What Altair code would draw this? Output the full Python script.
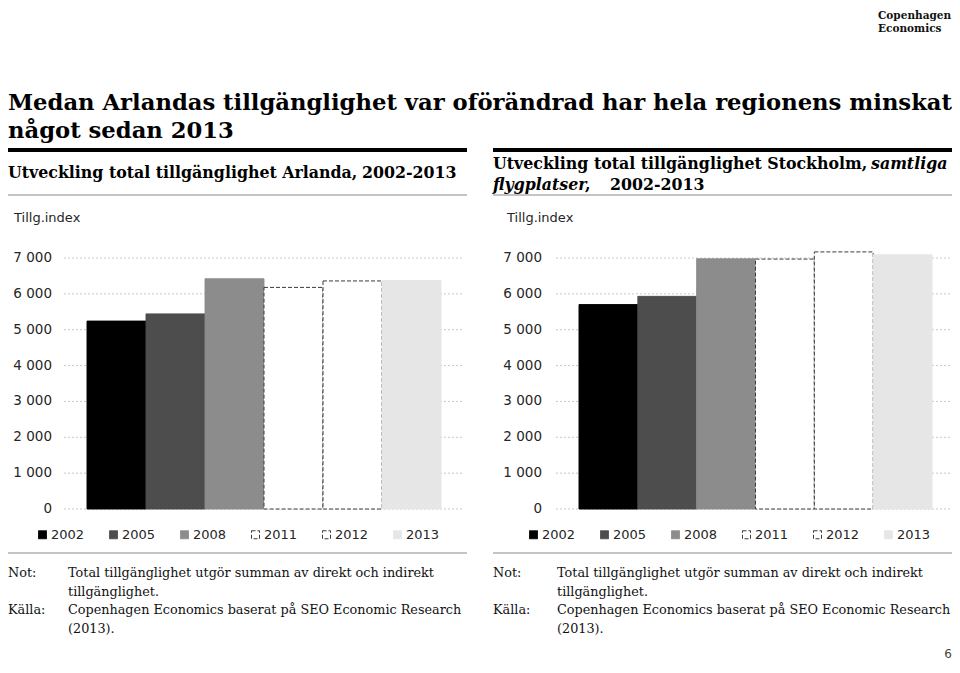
import altair as alt
import pandas as pd

# ---- data ----
years = ["2002", "2005", "2008", "2011", "2012", "2013"]
arlanda = [5240, 5440, 6420, 6180, 6360, 6370]
stockholm = [5700, 5930, 6980, 6970, 7170, 7090]
ticks = [0, 1000, 2000, 3000, 4000, 5000, 6000, 7000]

fills = ["#000000", "#4d4d4d", "#8c8c8c", "#ffffff", "#ffffff", "#e6e6e6"]
strokes = ["#000000", "#4d4d4d", "#8c8c8c", "#3a3a3a", "#3a3a3a", "#e6e6e6"]
dashes = [[1, 0], [1, 0], [1, 0], [4, 2], [4, 2], [1, 0]]

main_title = ["Medan Arlandas tillgänglighet var oförändrad har hela regionens minskat",
              "något sedan 2013"]
left_sub = ["Utveckling total tillgänglighet Arlanda,", "2002-2013"]
right_sub = ["Utveckling total tillgänglighet Stockholm,", "samtliga",
             "flygplatser", ",", "2002-2013"]
ylabel = "Tillg.index"
note_head = ["Not:", "Källa:"]
note_lines = ["Total tillgänglighet utgör summan av direkt och indirekt",
              "tillgänglighet.",
              "Copenhagen Economics baserat på SEO Economic Research",
              "(2013)."]
brand = ["Copenhagen", "Economics"]
page_no = "6"

dummy = pd.DataFrame({"d": [0]})
SERIF = "DejaVu Serif"
SANS = "DejaVu Sans"


def txt(s, x, y, size, weight="normal", style="normal", font=SERIF, color="#111111", align="left"):
    return alt.Chart(pd.DataFrame({"t": [s]})).mark_text(
        align=align, baseline="alphabetic", font=font, fontSize=size,
        fontWeight=weight, fontStyle=style, color=color
    ).encode(text="t:N", x=alt.value(x), y=alt.value(y))


def hline(x0, x1, y, color, width):
    return alt.Chart(dummy).mark_rule(color=color, strokeWidth=width).encode(
        x=alt.value(x0), x2=alt.value(x1), y=alt.value(y))


def panel(vals, bar_range, grid, label_x, legend_x):
    df = pd.DataFrame({"year": years, "value": vals})
    tdf = pd.DataFrame({"v": ticks})
    yscale = alt.Scale(domain=[0, 7000], range=[501, 250], nice=False)
    grid_layer = alt.Chart(tdf).mark_rule(color="#c8c8c8", strokeDash=[2, 2], strokeWidth=1).encode(
        y=alt.Y("v:Q", scale=yscale, axis=None),
        x=alt.value(grid[0]), x2=alt.value(grid[1]))
    labels = alt.Chart(tdf).transform_calculate(
        lab='replace(format(datum.v, ","), ",", " ")'
    ).mark_text(align="right", baseline="middle", font=SANS, fontSize=13.5, color="#262626").encode(
        y=alt.Y("v:Q", scale=yscale, axis=None), x=alt.value(label_x), text="lab:N")
    leg = alt.Legend(orient="none", legendX=legend_x, legendY=520, direction="horizontal",
                     columns=6, columnPadding=22, symbolType="square", symbolSize=64,
                     symbolStrokeWidth=1, labelFont=SANS, labelFontSize=13,
                     labelColor="#262626", labelOffset=2, title=None, padding=0, offset=0)
    bars = alt.Chart(df).mark_bar(strokeWidth=1).encode(
        x=alt.X("year:N", sort=years, axis=None,
                scale=alt.Scale(domain=years, range=bar_range, paddingInner=0, paddingOuter=0)),
        y=alt.Y("value:Q", scale=yscale, axis=None),
        fill=alt.Fill("year:N", scale=alt.Scale(domain=years, range=fills), legend=leg),
        stroke=alt.Stroke("year:N", scale=alt.Scale(domain=years, range=strokes), legend=leg),
        strokeDash=alt.StrokeDash("year:N", scale=alt.Scale(domain=years, range=dashes), legend=leg),
    )
    return [grid_layer, labels, bars]


layers = []
# header
layers.append(txt(brand[0], 870, 11, 10.5, weight="bold"))
layers.append(txt(brand[1], 870, 24, 10.5, weight="bold"))
layers.append(txt(page_no, 944, 650, 12, font=SANS, color="#444444", align="right"))
# main title
layers.append(txt(main_title[0], 0, 102, 22.7, weight="bold", color="#000000"))
layers.append(txt(main_title[1], 0, 130, 22.7, weight="bold", color="#000000"))
# thick rules
layers.append(hline(0, 459, 142, "#000000", 4))
layers.append(hline(485, 944, 142, "#000000", 4))
# subtitles
SUB = 15.8
layers.append(txt(left_sub[0], 0, 170, SUB, weight="bold", color="#000000"))
layers.append(txt(left_sub[1], 354, 170, SUB, weight="bold", color="#000000"))
layers.append(txt(right_sub[0], 485, 161, SUB, weight="bold", color="#000000"))
layers.append(txt(right_sub[1], 863, 161, SUB, weight="bold", style="italic", color="#000000"))
layers.append(txt(right_sub[2], 485, 182, SUB, weight="bold", style="italic", color="#000000"))
layers.append(txt(right_sub[3], 577, 182, SUB, weight="bold", color="#000000"))
layers.append(txt(right_sub[4], 602, 182, SUB, weight="bold", color="#000000"))
# thin rules
layers.append(hline(0, 459, 187, "#8a8a8a", 1))
layers.append(hline(485, 944, 187, "#8a8a8a", 1))
# axis titles
layers.append(txt(ylabel, 6, 214, 13, font=SANS, color="#262626"))
layers.append(txt(ylabel, 499, 214, 13, font=SANS, color="#262626"))
# panels
layers += panel(arlanda, [79, 433], [56, 455], 44, 28)
layers += panel(stockholm, [571, 924], [548, 944], 534, 519)
# bottom rules
layers.append(hline(0, 459, 545, "#8a8a8a", 1))
layers.append(hline(485, 944, 545, "#8a8a8a", 1))
# notes
NOTE = 12.8
for x_head, x_body in [(0, 60), (485, 549)]:
    layers.append(txt(note_head[0], x_head, 569, NOTE))
    layers.append(txt(note_lines[0], x_body, 569, NOTE))
    layers.append(txt(note_lines[1], x_body, 588, NOTE))
    layers.append(txt(note_head[1], x_head, 606, NOTE))
    layers.append(txt(note_lines[2], x_body, 606, NOTE))
    layers.append(txt(note_lines[3], x_body, 625, NOTE))

chart = alt.layer(*layers).resolve_scale(
    x="independent", y="independent", fill="independent",
    stroke="independent", strokeDash="independent"
).properties(
    width=944, height=652,
    autosize=alt.AutoSizeParams(type="none"), padding=0
).configure_view(strokeWidth=0)

chart.save("out.html", embed_options={"renderer": "svg", "actions": False})
